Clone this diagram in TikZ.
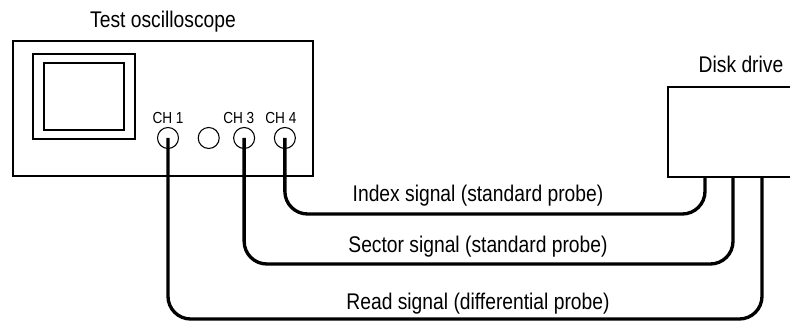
\documentclass[tikz,border=0pt]{standalone}
\usepackage{fontspec}
\setmainfont{Liberation Sans}[FakeStretch=0.85]
\usetikzlibrary{positioning}

\begin{document}
\begin{tikzpicture}[x=0.75pt,y=-0.75pt,
    title/.style={font=\fontsize{17}{20}\selectfont,inner sep=2pt},
    chan/.style={font=\fontsize{12}{14}\selectfont,inner sep=1pt},
    port/.style={draw,circle,line width=0.8pt,minimum size=15.75pt,inner sep=0pt},
    panel/.style={draw,line width=0.8pt},
    case/.style={draw,line width=1.5pt},
    wire/.style={line width=2.5pt,rounded corners=17pt}]
    \clip (0,0) rectangle (790,323);

    \node[case,minimum width=225pt,minimum height=101.25pt] (scope) at (163,108.5) {};
    \node[title,above=3.5pt of scope] (scopeName) {Test oscilloscope};
    \node[panel,minimum width=76.5pt,minimum height=63.75pt] (screen) at (84,96.5) {};
    \node[panel,minimum width=60pt,minimum height=50.25pt] (screenInner) at (screen.center) {};

    \node[port] (ch1) at (168,138) {};
    \node[port,right=14pt of ch1] (ch2) {};
    \node[port,right=10pt of ch2] (ch3) {};
    \node[port,right=14pt of ch3] (ch4) {};
    \node[chan,above=1.5pt of ch1] (ch1Label) {CH 1};
    \node[chan,above=1.5pt of ch3,xshift=-4pt] (ch3Label) {CH 3};
    \node[chan,above=1.5pt of ch4,xshift=-3pt] (ch4Label) {CH 4};

    \node[case,minimum width=99pt,minimum height=67.5pt] (disk) at (734,132) {};
    \node[title,above=8pt of disk,xshift=5.25pt] (diskName) {Disk drive};

    \coordinate (indexIn) at ([xshift=28.5pt]disk.south west);
    \coordinate (sectorIn) at ([xshift=49.5pt]disk.south west);
    \coordinate (readIn) at ([xshift=71.25pt]disk.south west);

    \draw[wire] (ch4.center) |- (indexIn |- 0,214) -- (indexIn);
    \draw[wire] (ch3.center) |- (sectorIn |- 0,264) -- (sectorIn);
    \draw[wire] (ch1.center) |- (readIn |- 0,319) -- (readIn);

    \node[title,anchor=base] (indexText) at (478,202) {Index signal (standard probe)};
    \node[title,anchor=base] (sectorText) at (478,253) {Sector signal (standard probe)};
    \node[title,anchor=base] (readText) at (478,310) {Read signal (differential probe)};
\end{tikzpicture}
\end{document}
